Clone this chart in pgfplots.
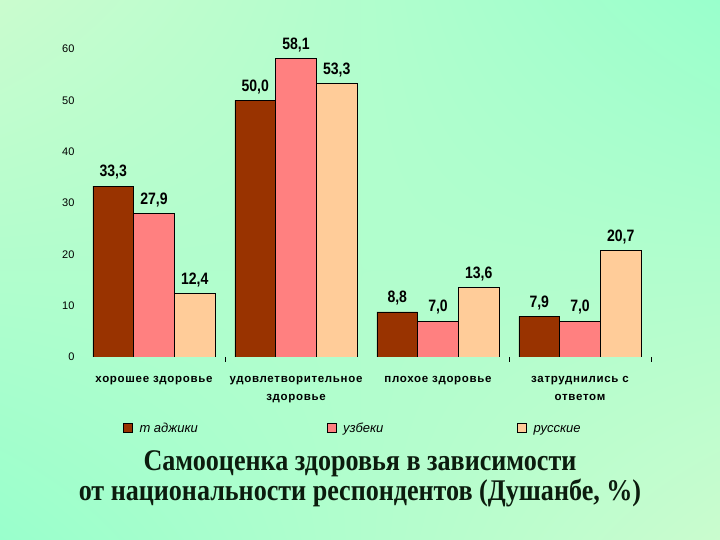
\documentclass[border=0pt]{standalone}
\usepackage{fontspec}
\usepackage{pgfplots}
\pgfplotsset{compat=1.18}
\usetikzlibrary{shadings}
\setmainfont{Liberation Sans}
\newfontfamily\valfont[FakeStretch=0.85]{Liberation Sans}
\newfontfamily\catfont[LetterSpace=6]{Liberation Sans}
\newfontfamily\titlefont[FakeStretch=0.87]{Liberation Serif}

\definecolor{bgA}{RGB}{202,252,206}
\definecolor{bgB}{RGB}{153,255,204}
\definecolor{tadzh}{RGB}{153,51,0}
\definecolor{uzb}{RGB}{255,128,128}
\definecolor{rus}{RGB}{255,204,153}
\definecolor{titlecol}{RGB}{12,28,14}

\pgfplotsset{sq legend/.style={legend image code/.code={%
  \draw[##1,draw=black,line width=0.6bp] (0bp,-4.5bp) rectangle (9bp,4.5bp);
  \path (14bp,0bp);}}}

\begin{document}
\begin{tikzpicture}
\shade[upper left=bgA, upper right=bgB, lower left=bgB, lower right=bgA]
  (0,0) rectangle (720bp,540bp);
\begin{axis}[
    at={(83bp,183bp)}, anchor=south west,
    scale only axis, width=568bp, height=308bp,
    ybar,
    bar width=0.287,
    xmin=-0.5, xmax=3.5, ymin=0, ymax=60,
    axis line style={draw=none},
    tick pos=left,
    xtick={0,1,2,3},
    xticklabels={хорошее здоровье, удовлетворительное\\здоровье, плохое здоровье, затруднились с\\ответом},
    xticklabel style={align=center, font=\catfont\bfseries\fontsize{11.5bp}{18bp}\selectfont, yshift=-12bp},
    major x tick style={draw=none},
    extra x ticks={0.5,2.5,3.5},
    extra x tick labels={},
    extra x tick style={major x tick style={draw=black, line width=0.6bp}, major tick length=5bp, tick align=outside},
    ytick={0,10,...,60},
    major y tick style={draw=none},
    yticklabel style={font=\fontsize{11bp}{12bp}\selectfont, xshift=-5bp},
    /pgf/number format/assume math mode=true,
    nodes near coords,
    nodes near coords style={font=\valfont\bfseries\fontsize{16.5bp}{18bp}\selectfont,
      /pgf/number format/fixed, /pgf/number format/fixed zerofill,
      /pgf/number format/precision=1, /pgf/number format/use comma,
      /pgf/number format/assume math mode=true, yshift=3bp},
    legend columns=3,
    legend style={at={(0.07,-0.23)}, anchor=west, draw=none, fill=none,
      font=\itshape\fontsize{13bp}{15bp}\selectfont, inner sep=0pt},
    legend cell align=left,
  ]
  \addplot[fill=tadzh, draw=black, line width=0.6bp, bar shift=-0.287, sq legend]
    coordinates {(0,33.3) (1,50.0) (2,8.8) (3,7.9)};
  \addplot[fill=uzb, draw=black, line width=0.6bp, bar shift=0, sq legend]
    coordinates {(0,27.9) (1,58.1) (2,7.0) (3,7.0)};
  \addplot[fill=rus, draw=black, line width=0.6bp, bar shift=0.287, sq legend]
    coordinates {(0,12.4) (1,53.3) (2,13.6) (3,20.7)};
  \legend{\makebox[185bp][l]{\strut т аджики}, \makebox[172bp][l]{\strut узбеки}, \makebox[60bp][l]{\strut русские}}
\end{axis}
\node[font=\titlefont\bfseries\fontsize{30bp}{30bp}\selectfont, align=center, text=titlecol]
  at (360bp,61bp) {Самооценка здоровья в зависимости\\от национальности респондентов (Душанбе, \%)};
\pgfresetboundingbox
\useasboundingbox (0,0) rectangle (720bp,540bp);
\end{tikzpicture}
\end{document}
